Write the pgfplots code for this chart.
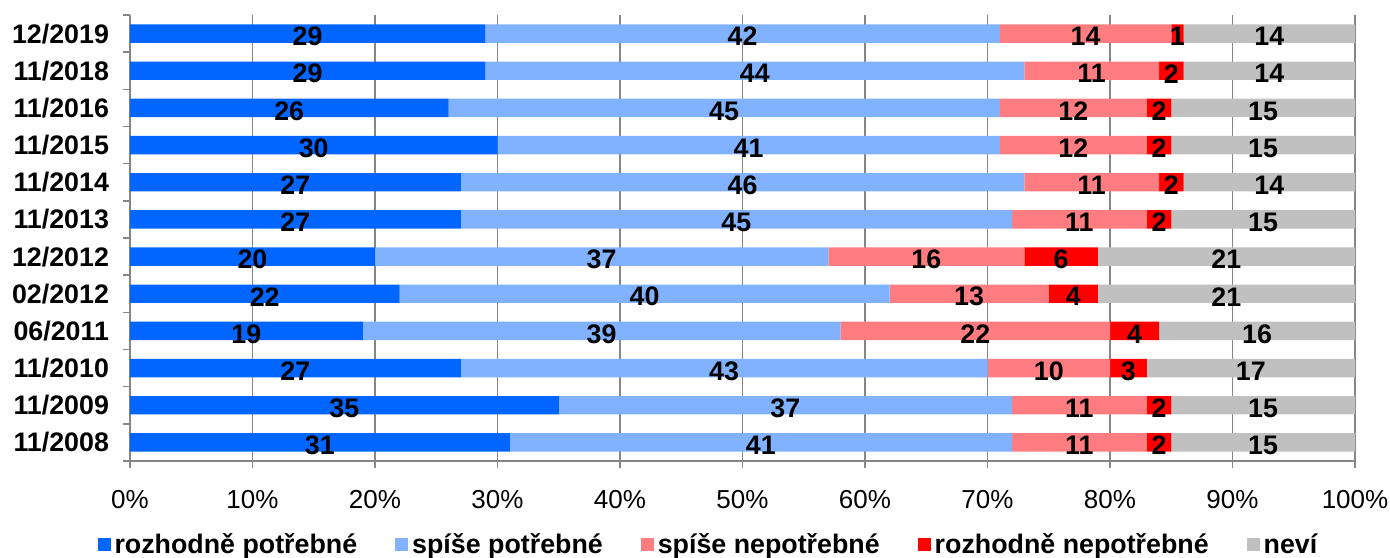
\documentclass[border=0pt]{standalone}
\usepackage{pgfplots}
\pgfplotsset{compat=1.18}
\usepackage{pgfplotstable}
\usepackage{fontspec}
\setmainfont{Liberation Sans}
\definecolor{c1}{RGB}{0,102,255}
\definecolor{c2}{RGB}{128,178,255}
\definecolor{c3}{RGB}{255,124,128}
\definecolor{c4}{RGB}{255,0,0}
\definecolor{c5}{RGB}{192,192,192}
\definecolor{gridc}{RGB}{134,134,134}
\pgfplotstableread{
idx a b c d e
11 29 42 14 1 14
10 29 44 11 2 14
9 26 45 12 2 15
8 30 41 12 2 15
7 27 46 11 2 14
6 27 45 11 2 15
5 20 37 16 6 21
4 22 40 13 4 21
3 19 39 22 4 16
2 27 43 10 3 17
1 35 37 11 2 15
0 31 41 11 2 15
}\data
\newcommand\fs{\fontsize{13}{15}\selectfont}
\newcommand\fsb{\fontsize{13.4}{15}\selectfont}
\pgfplotsset{
  lbl/.style={point meta=explicit,
    nodes near coords={\pgfmathprintnumber{\pgfplotspointmeta}},
    every node near coord/.style={anchor=center, yshift=-1.5pt, font=\fsb\bfseries, text=black, inner sep=0pt}},
}
\begin{document}
\begin{tikzpicture}
\begin{axis}[
  name=ax,
  /pgf/number format/assume math mode=true,
  scale only axis, width=612.5pt, height=223pt,
  xbar stacked, bar width=9.2pt,
  xmin=0, xmax=100, ymin=-0.5, ymax=11.5,
  axis lines=left, axis line style={gridc, line width=0.8pt, -},
  xtick={0,10,...,100},
  xticklabels={0\%,10\%,20\%,30\%,40\%,50\%,60\%,70\%,80\%,90\%,100\%},
  xmajorgrids, grid style={gridc, line width=0.8pt},
  tick align=outside, major tick length=3.5pt, minor tick length=3.5pt,
  xtick style={gridc, line width=0.8pt},
  ytick={0,...,11},
  yticklabels={11/2008,11/2009,11/2010,06/2011,02/2012,12/2012,11/2013,11/2014,11/2015,11/2016,11/2018,12/2019},
  major y tick style={draw=none},
  minor ytick={-0.5,0.5,...,11.5},
  minor y tick style={gridc, line width=0.8pt},
  yticklabel style={font=\fsb\bfseries, xshift=-3.5pt},
  xticklabel style={font=\fs, yshift=-7.5pt},
  legend style={at={(0.473,-0.188)}, anchor=center, draw=none, legend columns=5,
    font=\fsb\bfseries, /tikz/every even column/.append style={column sep=17pt}},
]
\addplot[fill=c1, draw=none, lbl, legend image code/.code={\fill[c1] (0pt,-3.2pt) rectangle (6.5pt,3.3pt);}] table[x=a, y=idx, meta=a] {\data};
\addplot[fill=c2, draw=none, lbl, legend image code/.code={\fill[c2] (0pt,-3.2pt) rectangle (6.5pt,3.3pt);}] table[x=b, y=idx, meta=b] {\data};
\addplot[fill=c3, draw=none, lbl, legend image code/.code={\fill[c3] (0pt,-3.2pt) rectangle (6.5pt,3.3pt);}] table[x=c, y=idx, meta=c] {\data};
\addplot[fill=c4, draw=none, lbl, legend image code/.code={\fill[c4] (0pt,-3.2pt) rectangle (6.5pt,3.3pt);}] table[x=d, y=idx, meta=d] {\data};
\addplot[fill=c5, draw=none, lbl, legend image code/.code={\fill[c5] (0pt,-3.2pt) rectangle (6.5pt,3.3pt);}] table[x=e, y=idx, meta=e] {\data};
\legend{rozhodně potřebné, spíše potřebné, spíše nepotřebné, rozhodně nepotřebné, neví}
\end{axis}
\pgfresetboundingbox
\path[use as bounding box] ([shift={(-65pt,-48pt)}]ax.south west) rectangle ([shift={(17.5pt,7.5pt)}]ax.north east);
\end{tikzpicture}
\end{document}
